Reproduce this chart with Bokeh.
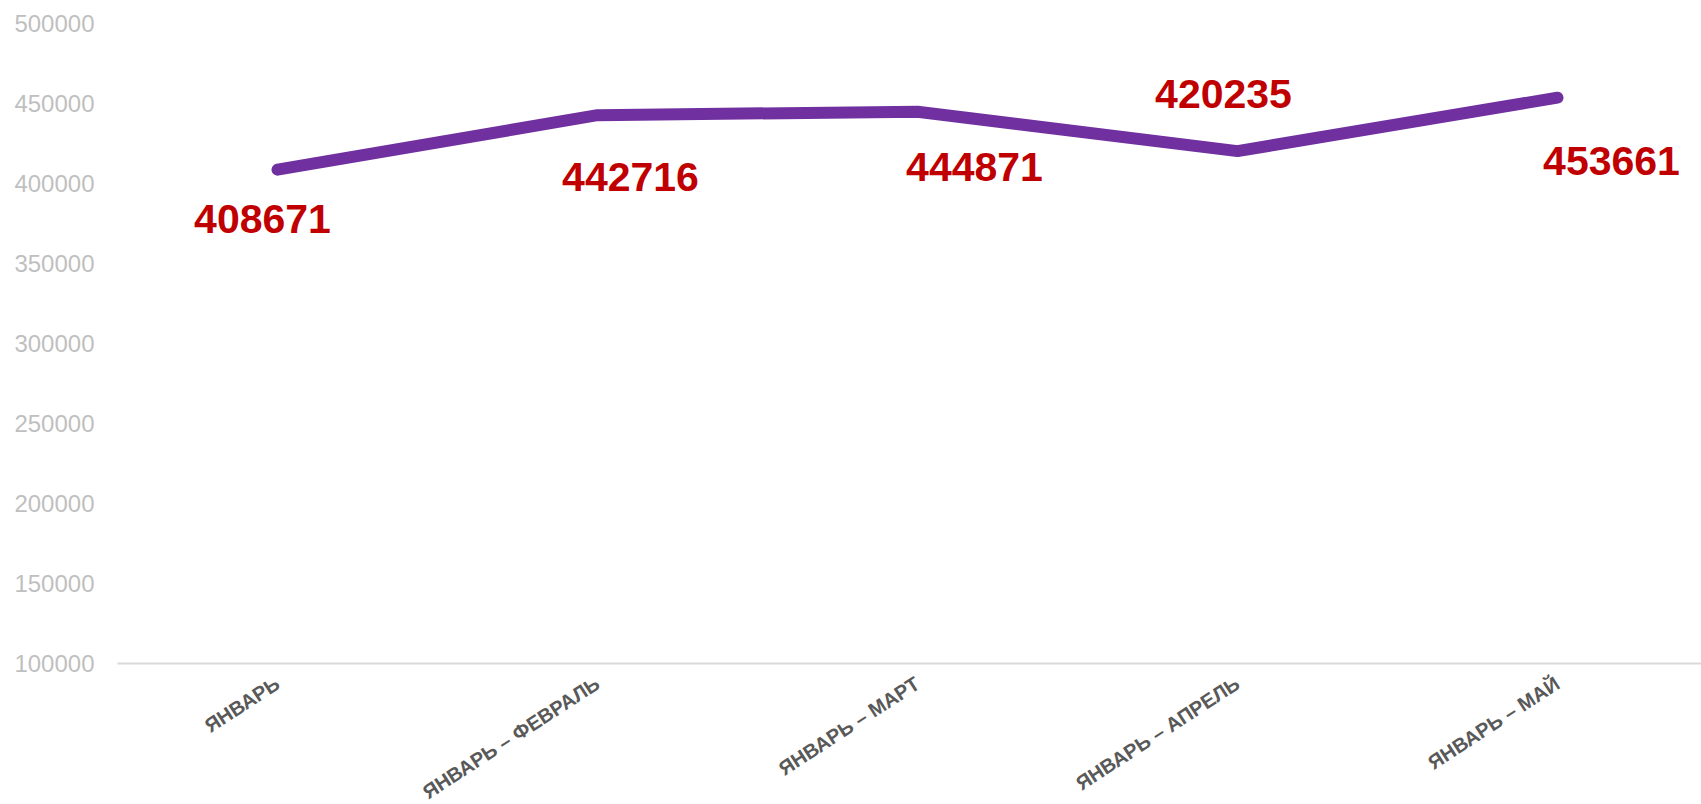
import math
from bokeh.plotting import figure
from bokeh.models import Range1d, FixedTicker, NumeralTickFormatter, ColumnDataSource
from bokeh.core.properties import value
from bokeh.embed import file_html
from bokeh.resources import INLINE

# ---- data ----
categories = ["ЯНВАРЬ", "ЯНВАРЬ – ФЕВРАЛЬ", "ЯНВАРЬ – МАРТ", "ЯНВАРЬ – АПРЕЛЬ", "ЯНВАРЬ – МАЙ"]
totals = [408671, 442716, 444871, 420235, 453661]
y_ticks = [100000, 150000, 200000, 250000, 300000, 350000, 400000, 450000, 500000]

# ---- label placement (screen pixels) ----
label_dx = [-15, 33, 57, -14, 54]
label_dy = [49, 62, 55, -57, 63]

idx = list(range(len(categories)))
src = ColumnDataSource(dict(
    x=idx, y=totals, txt=[str(v) for v in totals],
    dx=label_dx, dy=label_dy,
))

p = figure(
    output_backend="svg", toolbar_location=None,
    frame_width=1584, frame_height=640,
    x_range=Range1d(-0.5, 4.45), y_range=Range1d(100000, 500000),
    min_border_left=117, min_border_top=23, min_border_right=0,
)
p.styles = {"height": "804px", "overflow": "hidden"}
p.outline_line_color = None
p.background_fill_color = "white"
p.border_fill_color = "white"
p.xgrid.visible = False
p.ygrid.visible = False

p.line("x", "y", source=src, line_color="#7030A0", line_width=12,
       line_cap="round", line_join="round")

p.text("x", "y", text="txt", source=src, x_offset="dx", y_offset="dy",
       text_font=value("Liberation Sans"), text_font_size=value("41px"),
       text_font_style="bold", text_color="#C00000",
       text_align="center", text_baseline="middle")

# y axis
ya = p.yaxis[0]
ya.ticker = FixedTicker(ticks=y_ticks)
ya.formatter = NumeralTickFormatter(format="0")
ya.axis_line_color = None
ya.major_tick_line_color = None
ya.minor_tick_line_color = None
ya.major_tick_out = 0
ya.major_label_standoff = 23
ya.major_label_text_font = "Liberation Sans"
ya.major_label_text_font_size = "24px"
ya.major_label_text_color = "#BFBFBF"

# x axis
xa = p.xaxis[0]
xa.ticker = FixedTicker(ticks=idx)
xa.major_label_overrides = {i: c for i, c in zip(idx, categories)}
xa.axis_line_color = "#D9D9D9"
xa.axis_line_width = 2
xa.major_tick_line_color = None
xa.minor_tick_line_color = None
xa.major_tick_out = 0
xa.major_label_standoff = 18
xa.major_label_orientation = math.radians(33)
xa.major_label_text_font = "Liberation Sans"
xa.major_label_text_font_size = "20px"
xa.major_label_text_font_style = "bold"
xa.major_label_text_color = "#595959"

open("out.html", "w").write(file_html(p, INLINE))
